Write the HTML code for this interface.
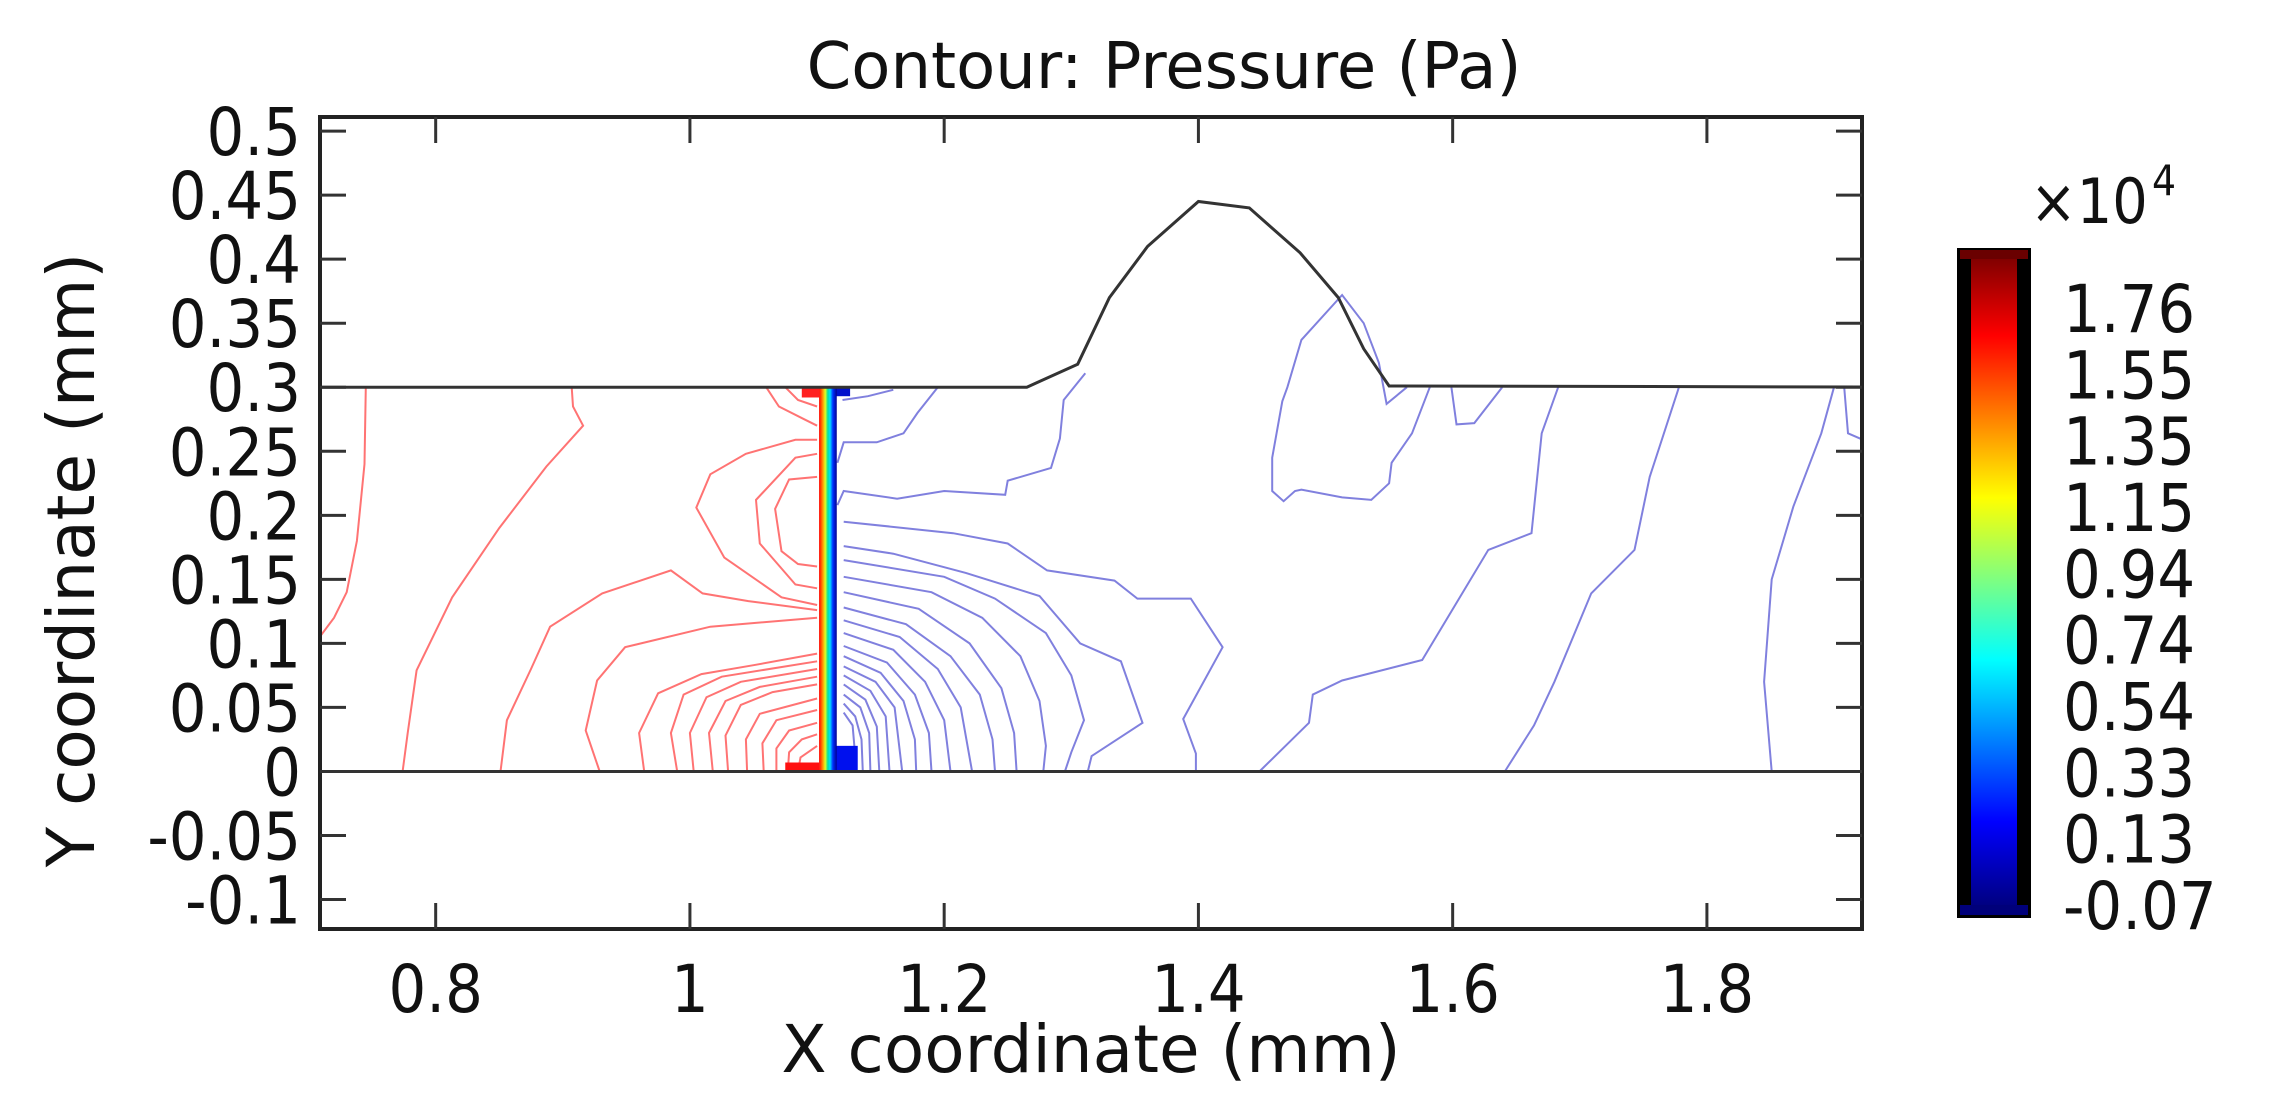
<!DOCTYPE html>
<html><head><meta charset="utf-8"><style>
html,body{margin:0;padding:0;background:#fff;}
svg{display:block;font-family:"DejaVu Sans","Liberation Sans",sans-serif;}
</style></head><body>
<svg id="chart" width="2270" height="1096" viewBox="0 0 2270 1096" xmlns="http://www.w3.org/2000/svg">
<defs>
<linearGradient id="jet" x1="0" y1="0" x2="0" y2="1">
<stop offset="0" stop-color="#800000"/><stop offset="0.12" stop-color="#ff0000"/><stop offset="0.37" stop-color="#ffff00"/><stop offset="0.62" stop-color="#00ffff"/><stop offset="0.87" stop-color="#0000ff"/><stop offset="1" stop-color="#000080"/>
</linearGradient>
<linearGradient id="strip" x1="0" y1="0" x2="1" y2="0">
<stop offset="0" stop-color="#ff0000"/><stop offset="0.2" stop-color="#ff9000"/><stop offset="0.35" stop-color="#e0ff20"/><stop offset="0.5" stop-color="#00e0a0"/><stop offset="0.62" stop-color="#00e0ff"/><stop offset="0.78" stop-color="#0030ff"/><stop offset="1" stop-color="#000090"/>
</linearGradient>
<clipPath id="plotclip"><rect x="320" y="117" width="1542" height="812"/></clipPath>
</defs>
<g id="plot" clip-path="url(#plotclip)"></g>
<g id="axes"></g>
<g id="cbar"></g>
</svg>
<script>
const xTicks=[0.8,1,1.2,1.4,1.6,1.8];
const xTickLabels=["0.8","1","1.2","1.4","1.6","1.8"];
const yTicks=[-0.1,-0.05,0,0.05,0.1,0.15,0.2,0.25,0.3,0.35,0.4,0.45,0.5];
const yTickLabels=["-0.1","-0.05","0","0.05","0.1","0.15","0.2","0.25","0.3","0.35","0.4","0.45","0.5"];
const cbarLabels=["1.76","1.55","1.35","1.15","0.94","0.74","0.54","0.33","0.13","-0.07"];
const boundaryTop=[[0.6,0.3],[1.265,0.3],[1.305,0.318],[1.33,0.37],[1.36,0.41],[1.4,0.445],[1.44,0.44],[1.48,0.405],[1.51,0.37],[1.53,0.33],[1.55,0.301],[2.0,0.3]];
const boundaryBottom=[[0.6,0],[2.0,0]];
const redContours=[
[[0.745,0.3],[0.744,0.24],[0.738,0.18],[0.73,0.14],[0.72,0.12],[0.705,0.1]],
[[0.907,0.3],[0.908,0.285],[0.916,0.27],[0.887,0.238],[0.85,0.19],[0.813,0.136],[0.785,0.079],[0.778,0.03],[0.774,0]],
[[0.851,0],[0.856,0.04],[0.875,0.08],[0.89,0.113],[0.931,0.139],[0.985,0.157],[1.01,0.139],[1.046,0.133],[1.1,0.126]],
[[0.929,0],[0.918,0.032],[0.927,0.071],[0.949,0.097],[1.016,0.113],[1.1,0.12]],
[[1.1,0.259],[1.083,0.259],[1.044,0.248],[1.016,0.232],[1.005,0.206],[1.027,0.167],[1.072,0.136],[1.1,0.13]],
[[1.1,0.248],[1.083,0.245],[1.052,0.212],[1.055,0.178],[1.083,0.146],[1.1,0.143]],
[[1.1,0.23],[1.078,0.228],[1.067,0.205],[1.072,0.172],[1.085,0.162],[1.1,0.16]],
[[0.964,0],[0.96,0.03],[0.975,0.061],[1.009,0.076],[1.05,0.083],[1.1,0.092]],
[[0.99,0],[0.985,0.03],[0.995,0.06],[1.025,0.074],[1.1,0.086]],
[[1.003,0],[1.0,0.03],[1.013,0.058],[1.04,0.07],[1.1,0.08]],
[[1.018,0],[1.015,0.03],[1.028,0.055],[1.055,0.066],[1.1,0.074]],
[[1.03,0],[1.028,0.028],[1.04,0.052],[1.065,0.062],[1.1,0.068]],
[[1.045,0],[1.044,0.025],[1.055,0.045],[1.1,0.057]],
[[1.058,0],[1.057,0.022],[1.068,0.04],[1.1,0.048]],
[[1.068,0],[1.068,0.018],[1.078,0.032],[1.1,0.038]],
[[1.077,0],[1.078,0.015],[1.088,0.025],[1.1,0.029]],
[[1.085,0],[1.087,0.011],[1.1,0.02]],
[[1.06,0.3],[1.07,0.285],[1.09,0.275],[1.1,0.27]],
[[1.075,0.3],[1.085,0.29],[1.1,0.285]]
];
const blueContours=[
[[1.195,0.3],[1.179,0.28],[1.168,0.264],[1.147,0.257],[1.121,0.257],[1.116,0.241]],
[[1.311,0.311],[1.294,0.29],[1.291,0.26],[1.284,0.237],[1.25,0.227],[1.248,0.216],[1.2,0.219],[1.163,0.213],[1.121,0.219],[1.116,0.208]],
[[1.121,0.195],[1.207,0.186],[1.25,0.178],[1.281,0.157],[1.334,0.149],[1.352,0.135],[1.394,0.135],[1.419,0.097],[1.388,0.041],[1.398,0.014],[1.398,0]],
[[1.121,0.176],[1.16,0.17],[1.217,0.155],[1.275,0.137],[1.307,0.1],[1.339,0.086],[1.356,0.038],[1.316,0.012],[1.313,0]],
[[1.121,0.165],[1.2,0.152],[1.24,0.135],[1.28,0.108],[1.3,0.075],[1.31,0.04],[1.3,0.015],[1.295,0]],
[[1.121,0.152],[1.19,0.14],[1.23,0.12],[1.26,0.09],[1.275,0.055],[1.28,0.02],[1.278,0]],
[[1.121,0.14],[1.18,0.127],[1.22,0.1],[1.245,0.065],[1.255,0.03],[1.257,0]],
[[1.121,0.128],[1.17,0.115],[1.205,0.09],[1.228,0.06],[1.238,0.025],[1.24,0]],
[[1.121,0.118],[1.165,0.105],[1.195,0.08],[1.213,0.05],[1.222,0]],
[[1.121,0.108],[1.16,0.095],[1.185,0.07],[1.2,0.04],[1.205,0]],
[[1.121,0.098],[1.155,0.085],[1.177,0.06],[1.188,0.03],[1.19,0]],
[[1.121,0.09],[1.15,0.077],[1.168,0.055],[1.177,0.025],[1.178,0]],
[[1.121,0.082],[1.146,0.07],[1.161,0.05],[1.167,0]],
[[1.121,0.075],[1.142,0.063],[1.154,0.043],[1.157,0]],
[[1.121,0.068],[1.138,0.056],[1.147,0.035],[1.149,0]],
[[1.121,0.06],[1.134,0.05],[1.141,0.03],[1.142,0]],
[[1.121,0.053],[1.13,0.043],[1.135,0.025],[1.136,0]],
[[1.121,0.046],[1.128,0.036],[1.131,0]],
[[1.582,0.3],[1.568,0.264],[1.552,0.241],[1.55,0.225],[1.536,0.212],[1.513,0.214],[1.481,0.22],[1.476,0.219],[1.467,0.211],[1.458,0.219],[1.458,0.245],[1.466,0.289],[1.47,0.3],[1.481,0.337],[1.513,0.372],[1.53,0.35],[1.542,0.319],[1.548,0.287],[1.564,0.3]],
[[1.599,0.3],[1.603,0.271],[1.617,0.272],[1.639,0.3]],
[[1.683,0.3],[1.67,0.264],[1.662,0.186],[1.628,0.173],[1.576,0.087],[1.513,0.071],[1.49,0.06],[1.487,0.038],[1.448,0]],
[[1.641,0],[1.664,0.036],[1.68,0.07],[1.709,0.139],[1.743,0.173],[1.755,0.23],[1.777,0.297],[1.778,0.3]],
[[1.851,0],[1.845,0.07],[1.851,0.15],[1.868,0.207],[1.89,0.264],[1.9,0.3]],
[[1.908,0.3],[1.911,0.264],[1.925,0.258]],
[[1.12,0.29],[1.14,0.293],[1.16,0.298]]
];
const xMin=0.709,xMax=1.922,yMin=-0.123,yMax=0.511;
const L=320,R=1862,T=117,B=929;
function X(v){return L+(v-xMin)/(xMax-xMin)*(R-L);}
function Y(v){return B-(v-yMin)/(yMax-yMin)*(B-T);}
const NS="http://www.w3.org/2000/svg";
function mk(tag,attrs,parent){const e=document.createElementNS(NS,tag);for(const k in attrs)e.setAttribute(k,attrs[k]);parent.appendChild(e);return e;}
const plot=document.getElementById('plot'),axes=document.getElementById('axes'),cbar=document.getElementById('cbar');
function pts(arr){return arr.map(p=>X(p[0]).toFixed(1)+','+Y(p[1]).toFixed(1)).join(' ');}
redContours.forEach((c,i)=>{const e=mk('polyline',{points:pts(c),fill:'none',stroke:'#ff5a5a','stroke-width':2,'stroke-opacity':0.85},plot);

});
blueContours.forEach((c,i)=>{const e=mk('polyline',{points:pts(c),fill:'none',stroke:'#6a6ad8','stroke-width':2,'stroke-opacity':0.85},plot);

});
let e;
e=mk('rect',{x:X(1.075),y:Y(0.007),width:X(1.1016)-X(1.075),height:Y(0)-Y(0.007),fill:'#ff1010'},plot);


e=mk('rect',{x:X(1.088),y:Y(0.3),width:X(1.1016)-X(1.088),height:Y(0.292)-Y(0.3),fill:'#ff2020'},plot);


e=mk('rect',{x:X(1.113),y:Y(0.02),width:X(1.132)-X(1.113),height:Y(0)-Y(0.02),fill:'#0010ee'},plot);


e=mk('rect',{x:X(1.113),y:Y(0.3),width:X(1.126)-X(1.113),height:Y(0.293)-Y(0.3),fill:'#0010cc'},plot);


e=mk('rect',{x:X(1.1016),y:Y(0.3),width:X(1.1155)-X(1.1016),height:Y(0)-Y(0.3),fill:'url(#strip)'},plot);


e=mk('polyline',{points:pts(boundaryTop),fill:'none',stroke:'#333','stroke-width':3},plot);


e=mk('polyline',{points:pts(boundaryBottom),fill:'none',stroke:'#333','stroke-width':3},plot);


e=mk('rect',{x:L,y:T,width:R-L,height:B-T,fill:'none',stroke:'#222','stroke-width':4},axes);


xTicks.forEach((v,i)=>{
 const x=X(v);
 let t=mk('line',{x1:x,y1:B,x2:x,y2:B-26,stroke:'#333','stroke-width':3},axes);
 
 
 t=mk('line',{x1:x,y1:T,x2:x,y2:T+26,stroke:'#333','stroke-width':3},axes);
 
 
 const lb=mk('text',{transform:`translate(${x},1012) scale(0.9,1)`,'text-anchor':'middle','font-size':66,fill:'#111'},axes);
 lb.textContent=xTickLabels[i];
 
 
});
yTicks.forEach((v,i)=>{
 const y=Y(v);
 let t=mk('line',{x1:L,y1:y,x2:L+26,y2:y,stroke:'#333','stroke-width':3},axes);
 
 
 t=mk('line',{x1:R,y1:y,x2:R-26,y2:y,stroke:'#333','stroke-width':3},axes);
 
 
 const lb=mk('text',{transform:`translate(301,${y+24}) scale(0.9,1)`,'text-anchor':'end','font-size':66,fill:'#111'},axes);
 lb.textContent=yTickLabels[i];
 
 
});
let tt=mk('text',{x:1164,y:88,'text-anchor':'middle','font-size':64,fill:'#111'},axes);
tt.textContent='Contour: Pressure (Pa)';


tt=mk('text',{x:1091,y:1072,'text-anchor':'middle','font-size':66,fill:'#111'},axes);
tt.textContent='X coordinate (mm)';


tt=mk('text',{transform:'translate(94,560) rotate(-90)','text-anchor':'middle','font-size':66,fill:'#111'},axes);
tt.textContent='Y coordinate (mm)';


e=mk('rect',{x:1957,y:248,width:74,height:670,fill:'#000'},cbar);


e=mk('rect',{x:1971,y:258,width:46,height:648,fill:'url(#jet)'},cbar);


e=mk('rect',{x:1960,y:250,width:68,height:9,fill:'#6a0000'},cbar);


e=mk('rect',{x:1960,y:905,width:68,height:10,fill:'#00007a'},cbar);


cbarLabels.forEach((s,i)=>{
 const y=308+i*(905-308)/(cbarLabels.length-1);
 const lb=mk('text',{transform:`translate(2063,${y+24}) scale(0.9,1)`,'font-size':66,fill:'#111'},cbar);
 lb.textContent=s;
 
 
});
tt=mk('text',{transform:'translate(2030,223) scale(0.9,1)','font-size':62,fill:'#111'},cbar);
tt.textContent='×10';


tt=mk('text',{transform:'translate(2152,195) scale(0.9,1)','font-size':42,fill:'#111'},cbar);
tt.textContent='4';


</script>
</body></html>
